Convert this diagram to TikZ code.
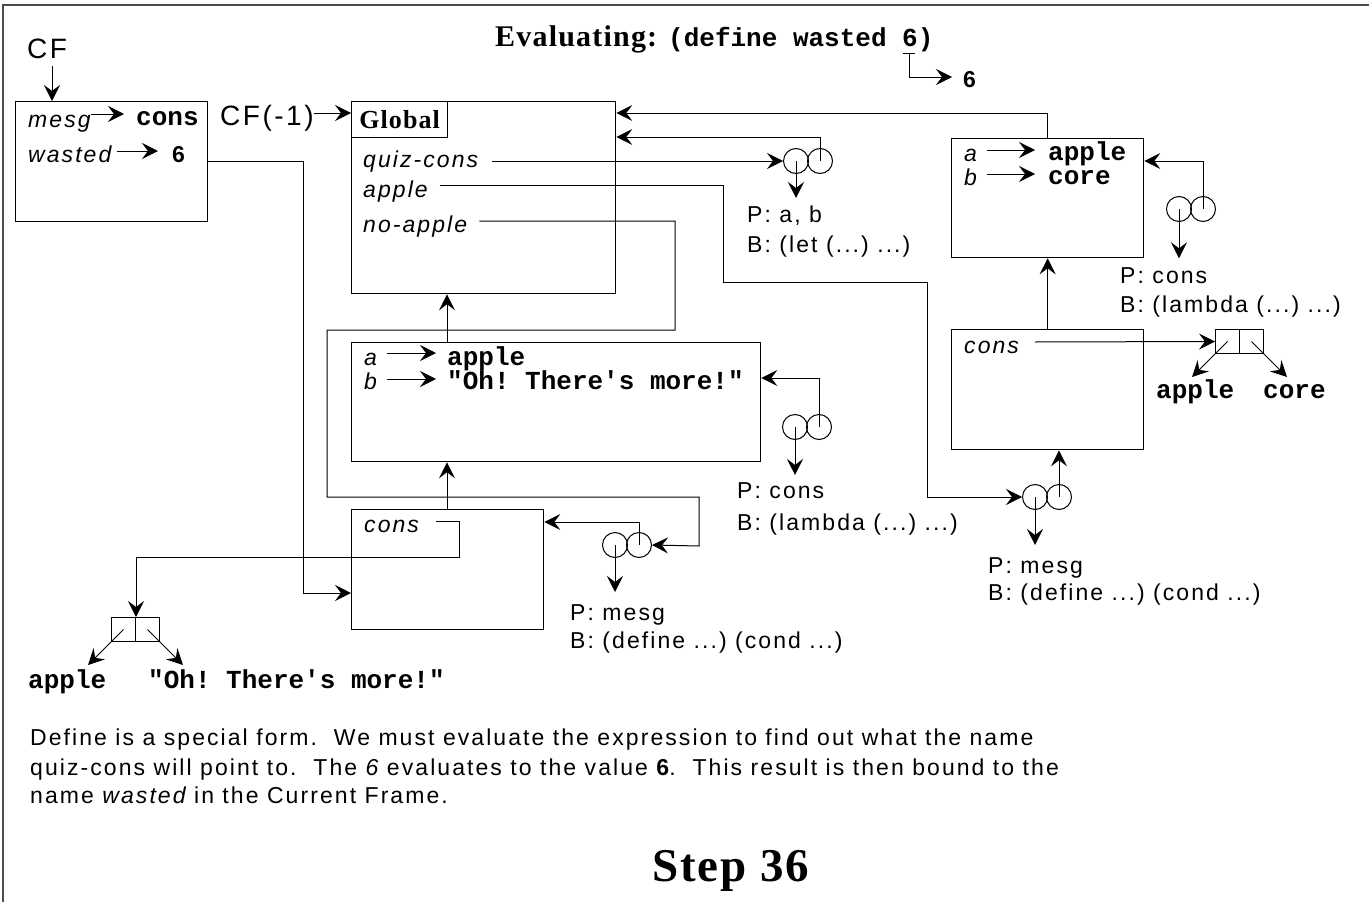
\documentclass[tikz,border=0pt]{standalone}
\usepackage{fontspec}
\usetikzlibrary{arrows.meta,calc}
\newfontfamily\labf{Liberation Sans}[LetterSpace=9]
\newfontfamily\monof{Liberation Mono}
\newfontfamily\serf{Liberation Serif}[LetterSpace=4]
\begin{document}
\frenchspacing
\begin{tikzpicture}[x=1pt,y=-1pt,
  frame/.style={draw, line width=1.3pt, inner sep=0, anchor=north west},
  ln/.style={line width=1pt},
  arr/.style={ln, -{Stealth[length=16pt,width=16pt,inset=6pt]}},
  lbl/.style={anchor=base west, inner sep=0, font=\labf\fontsize{23}{27}\selectfont},
  var/.style={anchor=base west, inner sep=0, font=\labf\itshape\fontsize{23}{27}\selectfont},
  val/.style={anchor=base west, inner sep=0, font=\monof\bfseries\fontsize{26}{28}\selectfont},
  big/.style={anchor=base west, inner sep=0, font=\labf\fontsize{28}{32}\selectfont},
  cell/.style={circle, draw, line width=1pt, minimum size=25pt, inner sep=0},
  pbox/.style={draw, line width=1pt, minimum width=24pt, minimum height=24pt, inner sep=0, anchor=north west},
  para/.style={anchor=base west, inner sep=0, font=\labf\fontsize{23}{27}\selectfont},
]
\useasboundingbox (0,0) rectangle (1369,902);
\draw[line width=2pt, black!70] (3,902) -- (3,5) -- (1369,5);

% title
\node[anchor=base west, inner sep=0, font=\serf\bfseries\fontsize{30}{32}\selectfont] (evl) at (495,46) {Evaluating:};
\node[val] (expr) at (668,46) {(define wasted 6)};
\coordinate (six) at (909,53);
\coordinate (sixEnd) at (952,77);
\draw[ln] ($(six)+(-6,0)$) -- ($(six)+(6,0)$);
\draw[arr] (six) |- (sixEnd);
\node[anchor=base west, inner sep=0, font=\labf\bfseries\fontsize{23}{27}\selectfont] (res) at (963,87) {6};

% CF frame
\node[frame, minimum width=192pt, minimum height=120pt] (cfF) at (15,101) {};
\node[big] (cfL) at (27,58) {CF};
\coordinate (cfA) at (52,66);
\draw[arr] (cfA) -- (cfA |- cfF.north);
\node[var] (mesg) at (28,127) {mesg};
\draw[arr] (mesg.east |- 0,114) -- (124,114);
\node[val] (mcons) at (136,125) {cons};
\node[var] (wasted) at (28,162) {wasted};
\draw[arr] ([xshift=5pt]wasted.east |- 0,151) -- (158,151);
\node[anchor=base west, inner sep=0, font=\labf\bfseries\fontsize{23}{27}\selectfont] (wsix) at (172,162) {6};

% Global frame
\node[frame, minimum width=264pt, minimum height=192pt] (glob) at (351,101) {};
\node[frame, minimum width=96pt, minimum height=36pt, font=\serf\bfseries\fontsize{26}{28}\selectfont] (globL) at (351,101) {Global};
\node[big] (cfm) at (220,125) {CF(-1)};
\draw[arr] (cfm.east |- 0,113) -- (glob.west |- 0,113);
\node[var] (qc) at (363,167) {quiz-cons};
\node[var] (gapple) at (363,197) {apple};
\node[var] (gno) at (363,232) {no-apple};

% closure quiz-cons
\node[cell] (q1) at (796,161) {};
\node[cell] (q2) at (820,161) {};
\draw[arr] ([xshift=14pt]qc.east |- q1.west) -- (q1.west);
\draw[arr] (q1.center) -- ++(0,37);
\node[lbl] (qp) at (747,222) {P: a, b};
\node[lbl] (qb) at (747,252) {B: (let (...) ...)};
\draw[arr] (q2.center) |- (glob.east |- 0,137);

% right top frame a/b
\node[frame, minimum width=192pt, minimum height=119pt] (abF) at (951,138) {};
\draw[arr] (abF.north) |- (glob.east |- 0,113);
\node[var] (ra) at (964,161) {a};
\draw[arr] (987,150) -- (1035,150);
\node[val] (rapple) at (1048,160) {apple};
\node[var] (rb) at (964,185) {b};
\draw[arr] (987,174) -- (1035,174);
\node[val] (rcore) at (1048,184) {core};
\node[cell] (t1) at (1179,209) {};
\node[cell] (t2) at (1203,209) {};
\draw[arr] (t2.center) |- (abF.east |- 0,161);
\draw[arr] (t1.center) -- (t1 |- abF.south);
\node[lbl] (tp) at (1120,283) {P: cons};
\node[lbl] (tb) at (1120,312) {B: (lambda (...) ...)};

% right cons frame
\node[frame, minimum width=192pt, minimum height=120pt] (consF) at (951,329) {};
\draw[arr] (consF.north) -- (abF.south);
\node[var] (rcons) at (964,353) {cons};
\node[pbox] (rpl) at (1215,329) {};
\node[pbox] (rpr) at (1239,329) {};
\draw[arr] (1035,342) -- (rpl.west);
\node[val] (rpa) at (1156,398) {apple};
\node[val] (rpc) at (1263,398) {core};
\draw[arr, line width=0.8pt] (rpl.center) -- (1192,377);
\draw[arr] (rpr.center) -- (1287,377);
\node[cell] (r1) at (1035,497) {};
\node[cell] (r2) at (1059,497) {};
\draw[arr] (r2.center) -- (r2 |- consF.south);
\draw[arr] (r1.center) -- ++(0,48);
\node[lbl] (rp) at (988,573) {P: mesg};
\node[lbl] (rbb) at (988,600) {B: (define ...) (cond ...)};

% middle frame
\node[frame, minimum width=409pt, minimum height=119pt] (midF) at (351,342) {};
\draw[arr] (midF.north west -| 447,0) -- (glob.south west -| 447,0);
\node[var] (ma) at (364,365) {a};
\draw[arr] (387,353) -- (436,353);
\node[val] (mapple) at (447,365) {apple};
\node[var] (mb) at (364,389) {b};
\draw[arr] (387,379) -- (436,379);
\node[val] (moh) at (447,389) {"Oh! There\textquotesingle s more!"};
\node[cell] (m1) at (795,427) {};
\node[cell] (m2) at (819,427) {};
\draw[arr] (m2.center) |- (midF.east |- 0,378);
\draw[arr] (m1.center) -- ++(0,48);
\node[lbl] (mp) at (737,498) {P: cons};
\node[lbl] (mbb) at (737,530) {B: (lambda (...) ...)};

% bottom frame
\node[frame, minimum width=192pt, minimum height=120pt] (botF) at (351,509) {};
\draw[arr] (botF.north west -| 447,0) -- (midF.south west -| 447,0);
\node[var] (bcons) at (364,532) {cons};
\node[pbox] (pl) at (111,617) {};
\node[pbox] (pr) at (135,617) {};
\draw[arr] (436,521) -- (459,521) -- (459,557) -| (pl.north east);
\draw[arr, line width=0.8pt] (pl.center) -- (88,665);
\draw[arr] (pr.center) -- (183,665);
\node[val] (bpa) at (28,688) {apple};
\node[val] (bpo) at (148,688) {"Oh! There\textquotesingle s more!"};
\node[cell] (b1) at (615,545) {};
\node[cell] (b2) at (639,545) {};
\draw[arr] (b2.center) |- (botF.east |- 0,522);
\draw[arr] (b1.center) -- ++(0,47);
\node[lbl] (bp) at (570,620) {P: mesg};
\node[lbl] (bbb) at (570,648) {B: (define ...) (cond ...)};

% long connectors
\draw[arr] (cfF.east |- 0,161) -| (303,593) -- (botF.west |- 0,593);
\draw[arr] ([xshift=12pt]gapple.east |- 0,185) -| (723,282) -| (927,497) -- (r1.west);
\draw[arr] ([xshift=12pt]gno.east |- 0,221) -| (675,330) -| (327,497) -| (699,546) -- (b2.east);

% text
\node[para] (t1l) at (30,745) {Define is a special form.\ \ We must evaluate the expression to find out what the name};
\node[para] (t2l) at (30,775) {quiz-cons will point to.\ \ The {\itshape 6} evaluates to the value {\bfseries 6}.\ \ This result is then bound to the};
\node[para] (t3l) at (30,803) {name {\itshape wasted} in the Current Frame.};
\node[anchor=base west, inner sep=0, font=\serf\bfseries\fontsize{47}{52}\selectfont] (step) at (652,881) {Step 36};
\end{tikzpicture}
\end{document}
